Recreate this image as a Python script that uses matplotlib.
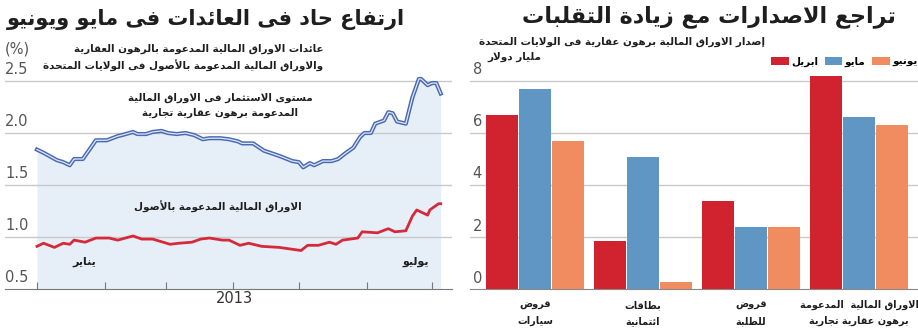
import matplotlib
matplotlib.use("Agg")
import matplotlib.pyplot as plt
from matplotlib.transforms import blended_transform_factory

# ---- data -------------------------------------------------------------
# yields, % (x = day of 2013)
blue_days = [0, 3, 9, 12, 15, 17, 21, 27, 32, 37, 39, 44, 46, 50, 53, 57, 60, 64, 68, 72,
             76, 79, 84, 88, 92, 94, 99, 104, 111, 117, 120, 122, 125, 127, 131, 135, 138,
             141, 145, 148, 150, 153, 155, 159, 161, 163, 165, 169, 172, 175, 176, 179,
             181, 183, 185]
blue_vals = [1.84, 1.81, 1.74, 1.72, 1.69, 1.75, 1.75, 1.93, 1.93, 1.97, 1.98, 2.01, 1.99,
             1.99, 2.01, 2.02, 2.00, 1.99, 2.00, 1.98, 1.94, 1.95, 1.95, 1.94, 1.92, 1.90,
             1.90, 1.83, 1.78, 1.73, 1.72, 1.67, 1.71, 1.69, 1.73, 1.73, 1.75, 1.80, 1.86,
             1.96, 2.00, 2.00, 2.09, 2.12, 2.20, 2.19, 2.11, 2.09, 2.34, 2.52, 2.52, 2.46,
             2.48, 2.48, 2.38]

red_days = [0, 3, 8, 12, 15, 17, 22, 27, 33, 37, 44, 48, 53, 61, 65, 71, 75, 79, 85, 88,
            93, 97, 103, 111, 121, 124, 129, 134, 137, 140, 147, 149, 156, 161, 164, 169,
            172, 174, 179, 180, 184, 185]
red_vals = [0.91, 0.94, 0.90, 0.94, 0.93, 0.97, 0.95, 0.99, 0.99, 0.97, 1.01, 0.98, 0.98,
            0.93, 0.94, 0.95, 0.98, 0.99, 0.97, 0.97, 0.92, 0.94, 0.91, 0.90, 0.87, 0.92,
            0.92, 0.95, 0.93, 0.97, 0.99, 1.05, 1.04, 1.08, 1.05, 1.06, 1.20, 1.26, 1.21,
            1.26, 1.32, 1.32]

month_starts = [0, 31, 59, 90, 120, 151, 181]
yield_ticks = [0.5, 1.0, 1.5, 2.0, 2.5]

# issuance, $bn
categories = ["قروض\nسيارات", "بطاقات\nائتمانية", "قروض\nللطلبة",
              "الاوراق المالية  المدعومة\nبرهون عقارية تجارية"]
months = ["ابريل", "مايو", "يونيو"]
april = [6.69, 1.86, 3.38, 8.19]
may = [7.68, 5.06, 2.37, 6.59]
june = [5.67, 0.26, 2.37, 6.28]
issue_ticks = [0, 2, 4, 6, 8]

RED = "#d0232f"
BLUE = "#5f96c3"
ORANGE = "#f08c5f"
TXT = "#1e1e1e"
GRID = "#c9c9c9"

# ---- minimal arabic shaping (presentation forms + visual order) -------
_FORMS = {
    "ء": (0xFE80, False), "آ": (0xFE81, False), "أ": (0xFE83, False), "ؤ": (0xFE85, False),
    "إ": (0xFE87, False), "ئ": (0xFE89, True), "ا": (0xFE8D, False), "ب": (0xFE8F, True),
    "ة": (0xFE93, False), "ت": (0xFE95, True), "ث": (0xFE99, True), "ج": (0xFE9D, True),
    "ح": (0xFEA1, True), "خ": (0xFEA5, True), "د": (0xFEA9, False), "ذ": (0xFEAB, False),
    "ر": (0xFEAD, False), "ز": (0xFEAF, False), "س": (0xFEB1, True), "ش": (0xFEB5, True),
    "ص": (0xFEB9, True), "ض": (0xFEBD, True), "ط": (0xFEC1, True), "ظ": (0xFEC5, True),
    "ع": (0xFEC9, True), "غ": (0xFECD, True), "ف": (0xFED1, True), "ق": (0xFED5, True),
    "ك": (0xFED9, True), "ل": (0xFEDD, True), "م": (0xFEE1, True), "ن": (0xFEE5, True),
    "ه": (0xFEE9, True), "و": (0xFEED, False), "ى": (0xFEEF, False), "ي": (0xFEF1, True),
}
_LAM_ALEF = {"آ": 0xFEF5, "أ": 0xFEF7, "إ": 0xFEF9, "ا": 0xFEFB}


def _shape_line(s):
    units = []
    i = 0
    while i < len(s):
        ch = s[i]
        if ch == "ل" and i + 1 < len(s) and s[i + 1] in _LAM_ALEF:
            units.append((_LAM_ALEF[s[i + 1]], False, True))
            i += 2
            continue
        if ch in _FORMS:
            iso, dual = _FORMS[ch]
            units.append((iso, dual, iso != 0xFE80))
        else:
            units.append((ch, False, False))
        i += 1
    out = []
    for k, (iso, dual, joins) in enumerate(units):
        if isinstance(iso, str):
            out.append(iso)
            continue
        prev = units[k - 1] if k > 0 else None
        nxt = units[k + 1] if k + 1 < len(units) else None
        jp = joins and prev is not None and not isinstance(prev[0], str) and prev[1]
        jn = dual and nxt is not None and not isinstance(nxt[0], str) and nxt[2]
        if jp and jn:
            code = iso + 3
        elif jp:
            code = iso + 1
        elif jn:
            code = iso + 2
        else:
            code = iso
        out.append(chr(code))
    return "".join(reversed(out))


def ar(text):
    return "\n".join(_shape_line(line) for line in text.split("\n"))


# ---- figure -----------------------------------------------------------
plt.rcParams["font.family"] = ["DejaVu Sans"]
W, H = 918, 334
fig = plt.figure(figsize=(W / 100, H / 100), dpi=100)


def fx(px):
    return px / W


def fy(py):
    return 1 - py / H


# left: yields
ax1 = fig.add_axes([fx(5), fy(289), fx(447), (289 - 70) / H])
ax1.fill_between(blue_days, 0.5, blue_vals, color="#e6eef8", lw=0, zorder=1)
ax1.plot(blue_days, blue_vals, color="#4a69b3", lw=3.0, zorder=3, solid_joinstyle="round")
ax1.plot(blue_days, blue_vals, color="#dde7f7", lw=0.9, zorder=4, solid_joinstyle="round")
ax1.plot(red_days, red_vals, color="#d42a3a", lw=2.0, zorder=3)

px_per_day = 2.1823
ax1.set_xlim(-(37 - 5) / px_per_day, (452 - 37) / px_per_day)
ax1.set_ylim(0.5, 0.5 + (289 - 70) / 104)
for v in yield_ticks[1:]:
    ax1.axhline(v, color=GRID, lw=1, zorder=2)
lt = blended_transform_factory(ax1.transAxes, ax1.transData)
for v in yield_ticks:
    ax1.text(0.0, v + 0.035, f"{v:.1f}", transform=lt, ha="left", va="bottom",
             fontsize=10.5, color="#555555")
for s in ["top", "right", "left"]:
    ax1.spines[s].set_visible(False)
ax1.spines["bottom"].set_color("#777777")
ax1.set_yticks([])
ax1.set_xticks(month_starts)
ax1.set_xticklabels([])
ax1.tick_params(axis="x", direction="in", length=5, color="#777777")

ax1.text(84, 2.27, ar("مستوى الاستثمار فى الاوراق المالية\nالمدعومة برهون عقارية تجارية"),
         ha="center", va="center", fontsize=7.5, fontweight="bold", color=TXT,
         linespacing=1.6, zorder=5)
ax1.text(83, 1.29, ar("الاوراق المالية المدعومة بالأصول"), ha="center", va="center",
         fontsize=7.5, fontweight="bold", color=TXT, zorder=5)
ax1.text(21.5, 0.76, ar("يناير"), ha="center", va="center", fontsize=8,
         fontweight="bold", color=TXT, zorder=5)
ax1.text(173.7, 0.76, ar("يوليو"), ha="center", va="center", fontsize=8,
         fontweight="bold", color=TXT, zorder=5)
ax1.text(90.5, 0.41, "2013", ha="center", va="center", fontsize=10.5, color="#333333")

fig.text(fx(206), fy(19), ar("ارتفاع حاد فى العائدات فى مايو ويونيو"), ha="center",
         va="center", fontsize=15, fontweight="bold", color=TXT)
fig.text(fx(323), fy(57.5), ar("عائدات الاوراق المالية المدعومة بالرهون العقارية\n"
                                "والاوراق المالية المدعومة بالأصول فى الولايات المتحدة"),
         ha="right", va="center", fontsize=7.5, fontweight="bold", color=TXT,
         linespacing=1.6, multialignment="right")
fig.text(fx(5), fy(49), "(%)", ha="left", va="center", fontsize=10.5, color="#555555")

# right: issuance
ax2 = fig.add_axes([fx(470), fy(289), fx(448), (289 - 70) / H])
step = 0.305
width = 0.29
x = list(range(len(categories)))
for i, (vals, col, lab) in enumerate(zip([april, may, june], [RED, BLUE, ORANGE], months)):
    ax2.bar([c + (i - 1) * step for c in x], vals, width=width, color=col,
            label=ar(lab), zorder=3)
ax2.set_xlim((470 - 535) / 108, (918 - 535) / 108)
ax2.set_ylim(0, (289 - 70) / 26.04)
for v in issue_ticks[1:]:
    ax2.axhline(v, color=GRID, lw=1, zorder=1)
rt = blended_transform_factory(ax2.transAxes, ax2.transData)
for v in issue_ticks:
    ax2.text(0.006, v + 0.13, f"{v}", transform=rt, ha="left", va="bottom",
             fontsize=10.5, color="#555555")
for s in ["top", "right", "left"]:
    ax2.spines[s].set_visible(False)
ax2.spines["bottom"].set_color("#888888")
ax2.set_yticks([])
ax2.set_xticks(x)
ax2.set_xticklabels([ar(c) for c in categories], fontsize=7, fontweight="bold",
                    color=TXT, linespacing=1.7)
ax2.tick_params(axis="x", length=0, pad=8)

ax2.legend(loc="center left", bbox_to_anchor=(fx(771), fy(62)),
           bbox_transform=fig.transFigure, ncol=3, frameon=False,
           prop={"weight": "bold", "size": 7.5}, handlelength=1.7, handleheight=0.75,
           handletextpad=0.25, columnspacing=0.6, borderpad=0, borderaxespad=0)

fig.text(fx(709), fy(17), ar("تراجع الاصدارات مع زيادة التقلبات"), ha="center",
         va="center", fontsize=16, fontweight="bold", color=TXT)
fig.text(fx(765), fy(42), ar("إصدار الاوراق المالية برهون عقارية فى الولايات المتحدة"),
         ha="right", va="center", fontsize=7.5, fontweight="bold", color=TXT)
fig.text(fx(487), fy(57), ar("مليار دولار"), ha="left", va="center", fontsize=7.5,
         fontweight="bold", color=TXT)

fig.savefig("out.png", dpi=100)
